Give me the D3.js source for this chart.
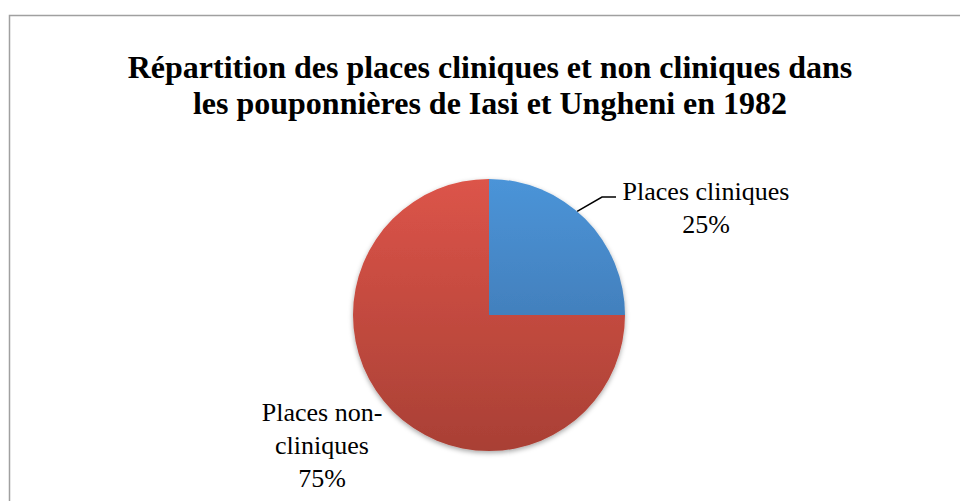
<!DOCTYPE html>
<html>
<head>
<meta charset="utf-8">
<script src="https://cdn.jsdelivr.net/npm/d3@7"></script>
<style>
  body { margin: 0; background: #fff; }
  svg text { font-family: "Liberation Serif", "Times New Roman", serif; fill: #000; }
</style>
</head>
<body>
<div id="chart"></div>
<script>
// data
let categories = ["Places cliniques", "Places non-cliniques"];
let values = [25, 75];
let titleLines = [
    "Répartition des places cliniques et non cliniques dans",
    "les pouponnières de Iasi et Ungheni en 1982"
];

let width = 960, height = 501;
let cx = 489, cy = 315, radius = 136;

let svg = d3.select("#chart").append("svg")
    .attr("width", width)
    .attr("height", height);

let defs = svg.append("defs");

// gradients per slice (in pie group coordinates)
let grads = [
    {id: "gBlue", top: "#4b94d8", bottom: "#3a6ca2"},
    {id: "gRed", top: "#dc5449", bottom: "#a94035"}
];
grads.forEach(g => {
    let lg = defs.append("linearGradient")
        .attr("id", g.id)
        .attr("gradientUnits", "userSpaceOnUse")
        .attr("x1", 0).attr("y1", -radius)
        .attr("x2", 0).attr("y2", radius);
    lg.append("stop").attr("offset", "0%").attr("stop-color", g.top);
    lg.append("stop").attr("offset", "100%").attr("stop-color", g.bottom);
});

let shadow = defs.append("filter").attr("id", "shadow")
    .attr("x", "-20%").attr("y", "-20%").attr("width", "140%").attr("height", "140%");
shadow.append("feDropShadow")
    .attr("dx", 0).attr("dy", 2).attr("stdDeviation", 2.5)
    .attr("flood-color", "#000").attr("flood-opacity", 0.35);

// frame
svg.append("rect")
    .attr("x", 9.5).attr("y", 15.5)
    .attr("width", width + 20).attr("height", height + 20)
    .attr("fill", "none")
    .attr("stroke", "#a0a0a0")
    .attr("stroke-width", 1.5);

// title
svg.append("text")
    .attr("text-anchor", "middle")
    .style("font-size", "32px")
    .style("font-weight", "bold")
    .selectAll("tspan")
    .data(titleLines)
    .enter()
    .append("tspan")
    .attr("x", 490)
    .attr("y", (d, i) => 78 + i * 36)
    .text(d => d);

// pie
let pie = d3.pie().sort(null).value(d => d);
let arc = d3.arc().innerRadius(0).outerRadius(radius);

let g = svg.append("g")
    .attr("transform", `translate(${cx}, ${cy})`)
    .attr("filter", "url(#shadow)");

let arcs = pie(values);
g.selectAll("path")
    .data(arcs)
    .enter()
    .append("path")
    .attr("d", arc)
    .attr("fill", (d, i) => `url(#${grads[i].id})`);

// leader line for first slice
let mid = (arcs[0].startAngle + arcs[0].endAngle) / 2;
let edge = [cx + Math.sin(mid - 0.08) * radius, cy - Math.cos(mid - 0.08) * radius];
svg.append("polyline")
    .attr("points", [edge, [602, 197], [616, 197]].map(p => p.join(",")).join(" "))
    .attr("fill", "none")
    .attr("stroke", "#000")
    .attr("stroke-width", 1.5);

// labels
let labels = [
    {lines: [categories[0], values[0] + "%"], x: 706, y: 200},
    {lines: ["Places non-", "cliniques", values[1] + "%"], x: 322, y: 421}
];
labels.forEach(l => {
    svg.append("text")
        .attr("text-anchor", "middle")
        .style("font-size", "26px")
        .selectAll("tspan")
        .data(l.lines)
        .enter()
        .append("tspan")
        .attr("x", l.x)
        .attr("y", (d, i) => l.y + i * 33)
        .text(d => d);
});
</script>
</body>
</html>
